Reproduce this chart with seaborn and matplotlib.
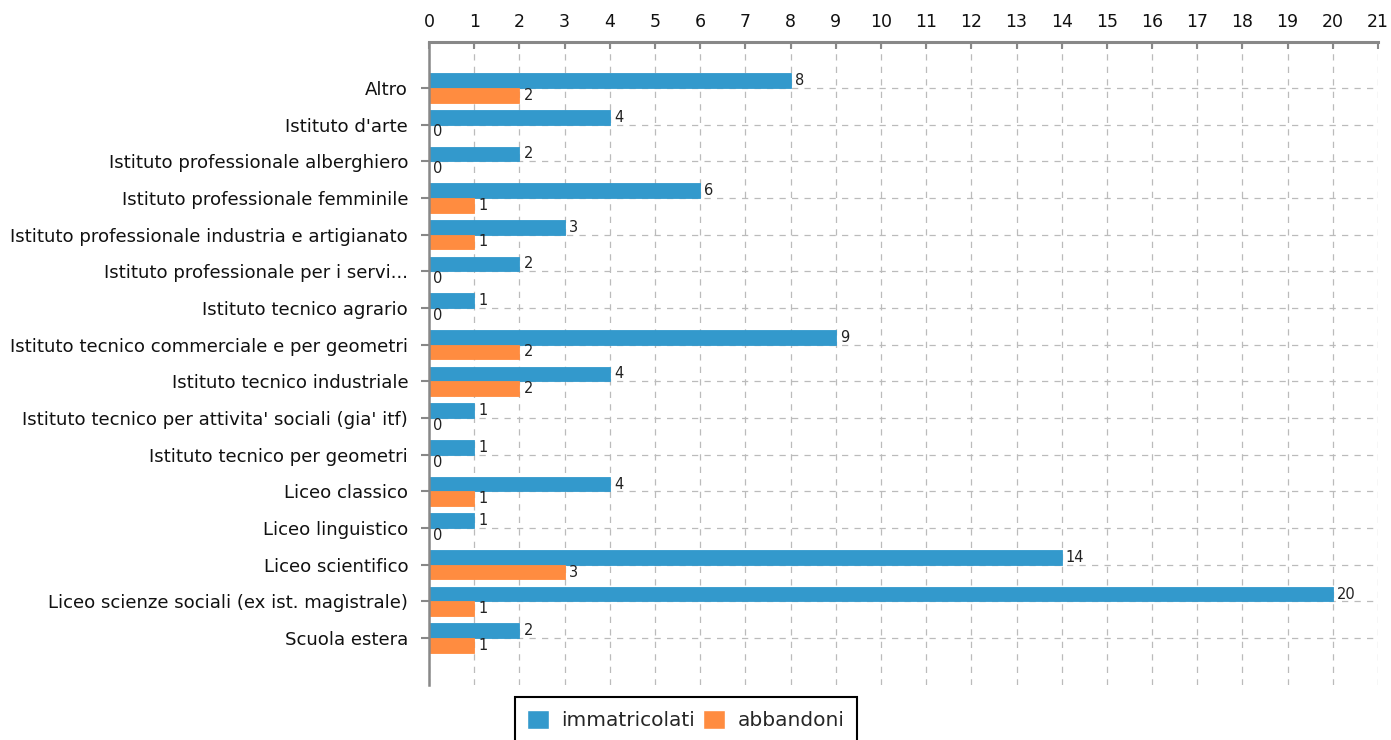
import matplotlib
matplotlib.use("Agg")
import matplotlib.pyplot as plt
import seaborn as sns
import pandas as pd

categories = [
    "Altro",
    "Istituto d'arte",
    "Istituto professionale alberghiero",
    "Istituto professionale femminile",
    "Istituto professionale industria e artigianato",
    "Istituto professionale per i servi...",
    "Istituto tecnico agrario",
    "Istituto tecnico commerciale e per geometri",
    "Istituto tecnico industriale",
    "Istituto tecnico per attivita' sociali (gia' itf)",
    "Istituto tecnico per geometri",
    "Liceo classico",
    "Liceo linguistico",
    "Liceo scientifico",
    "Liceo scienze sociali (ex ist. magistrale)",
    "Scuola estera",
]
immatricolati = [8, 4, 2, 6, 3, 2, 1, 9, 4, 1, 1, 4, 1, 14, 20, 2]
abbandoni = [2, 0, 0, 1, 1, 0, 0, 2, 2, 0, 0, 1, 0, 3, 1, 1]
series_names = ["immatricolati", "abbandoni"]
x_ticks = list(range(0, 22))

df = pd.DataFrame({
    "categoria": categories * 2,
    "valore": immatricolati + abbandoni,
    "serie": [series_names[0]] * len(categories) + [series_names[1]] * len(categories),
})

sns.set_theme(style="white")
plt.rcParams['font.family'] = ['DejaVu Sans']

fig = plt.figure(figsize=(13.91, 7.40), dpi=100)
ax = fig.add_axes([0.3084, 0.0743, 0.9907 - 0.3084, 0.9432 - 0.0743])

palette = {"immatricolati": "#3399CC", "abbandoni": "#FF8C40"}
sns.barplot(data=df, y="categoria", x="valore", hue="serie", order=categories,
            hue_order=series_names, palette=palette, orient="h", errorbar=None,
            width=0.8, saturation=1, ax=ax, legend=True)

for cont in ax.containers:
    for p in cont:
        p.set_edgecolor(p.get_facecolor())
        p.set_linewidth(0.6)
    ax.bar_label(cont, fmt="%d", padding=3, fontsize=10.5, color="#222222")

ax.set_xlim(0, 21)
ax.set_ylim(len(categories) - 1 + 1.28, -1.25)
ax.set_xticks(x_ticks)
ax.xaxis.tick_top()
ax.xaxis.set_label_position("top")
ax.set_xlabel("")
ax.set_ylabel("")

ax.grid(True, axis="both", linestyle=(0, (5, 5)), color="#BBBBBB", linewidth=0.9)
ax.set_axisbelow(True)

for s in ["right", "bottom"]:
    ax.spines[s].set_visible(False)
for s in ["top", "left"]:
    ax.spines[s].set_visible(True)
    ax.spines[s].set_color("#888888")
ax.spines["top"].set_linewidth(2.2)
ax.spines["left"].set_linewidth(1.8)

ax.tick_params(axis="x", which="both", direction="in", length=5, width=1.5,
               color="#888888", labelsize=12.5, labelcolor="#111111", pad=8,
               top=True, bottom=False, labeltop=True, labelbottom=False)
ax.tick_params(axis="y", which="both", direction="out", length=6, width=1.5,
               color="#888888", labelsize=13.1, labelcolor="#111111", pad=9, left=True)

leg = ax.get_legend()
handles, labels = ax.get_legend_handles_labels()
leg.remove()
fig.legend(handles, labels, loc="upper center", bbox_to_anchor=(0.493, 0.0715),
           ncol=2, frameon=True, fancybox=False, edgecolor="black", fontsize=14.5,
           handlelength=1.1, handleheight=1.1, handletextpad=0.6, columnspacing=0.4,
           borderpad=0.62, framealpha=1).get_frame().set_linewidth(1.5)

fig.savefig("out.png", dpi=100)
